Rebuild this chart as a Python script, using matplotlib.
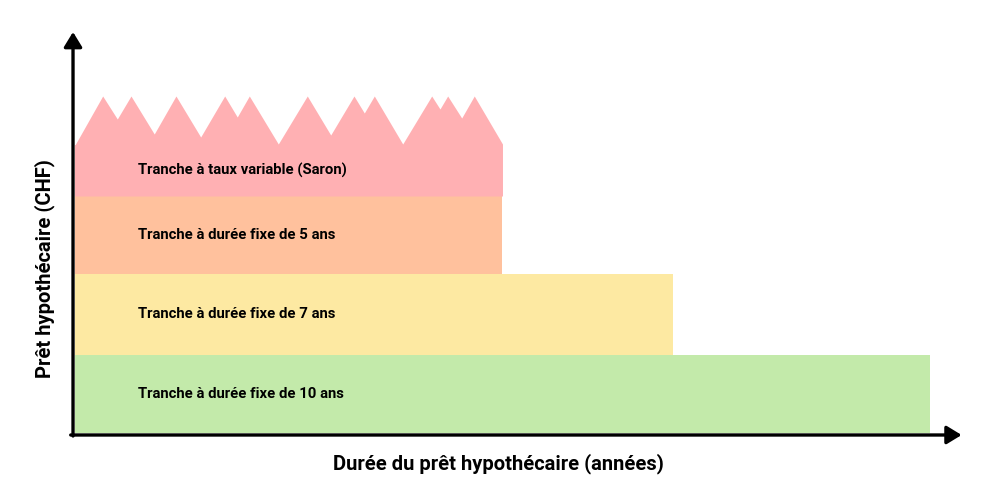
import matplotlib.pyplot as plt

plt.rcParams['font.family'] = ['Roboto', 'DejaVu Sans']

# tranches (de bas en haut)
tranches = ["Tranche à durée fixe de 10 ans", "Tranche à durée fixe de 7 ans",
            "Tranche à durée fixe de 5 ans", "Tranche à taux variable (Saron)"]
durees = [10, 7, 5, 5]          # années
montants = [78, 81, 78, 51]     # hauteur de chaque tranche (unités arbitraires)
couleurs = ["#c3eaaa", "#fde9a2", "#ffc19d", "#ffb0b3"]

# bord supérieur irrégulier de la tranche Saron
saron_x = [0, 0.324, 0.495, 0.655, 0.927, 1.181, 1.470, 1.751, 1.898, 2.039, 2.378,
           2.717, 2.991, 3.263, 3.384, 3.501, 3.833, 4.172, 4.269, 4.359, 4.523, 4.670, 5.0]
saron_y = [288, 337, 314, 337, 299, 337, 296, 337, 316, 337, 289,
           337, 298, 337, 320, 337, 289, 337, 324, 337, 315, 337, 289]

fig = plt.figure(figsize=(10, 5), dpi=100)
ax = fig.add_axes([0, 0, 1, 1])
ax.set_xlim(-0.877, 10.819)
ax.set_ylim(-67, 433)
ax.axis('off')

bas = 0
for nom, d, m, c in zip(tranches, durees, montants, couleurs):
    ax.bar(0, m, width=d, bottom=bas, align='edge', color=c, linewidth=0)
    ax.text(0.74, bas + m / 2, nom, fontsize=10.7, fontweight='bold', va='center', ha='left')
    bas += m

ax.fill_between(saron_x, bas - montants[-1], saron_y, color=couleurs[-1], linewidth=0)

# axes avec flèches
fleche = dict(arrowstyle='-|>,head_length=0.9,head_width=0.55', lw=2.4, color='black',
              mutation_scale=10, shrinkA=0, shrinkB=0)
ax.annotate('', xy=(-0.023, 401), xytext=(-0.023, -3), arrowprops=fleche)
ax.annotate('', xy=(10.37, -2), xytext=(-0.05, -2), arrowprops=fleche)

ax.text(4.95, -31, "Durée du prêt hypothécaire (années)", fontsize=14.5, fontweight='bold',
        ha='center', va='center')
ax.text(-0.36, 164, "Prêt hypothécaire (CHF)", fontsize=14.5, fontweight='bold',
        ha='center', va='center', rotation=90)

fig.savefig("out.png", dpi=100)
